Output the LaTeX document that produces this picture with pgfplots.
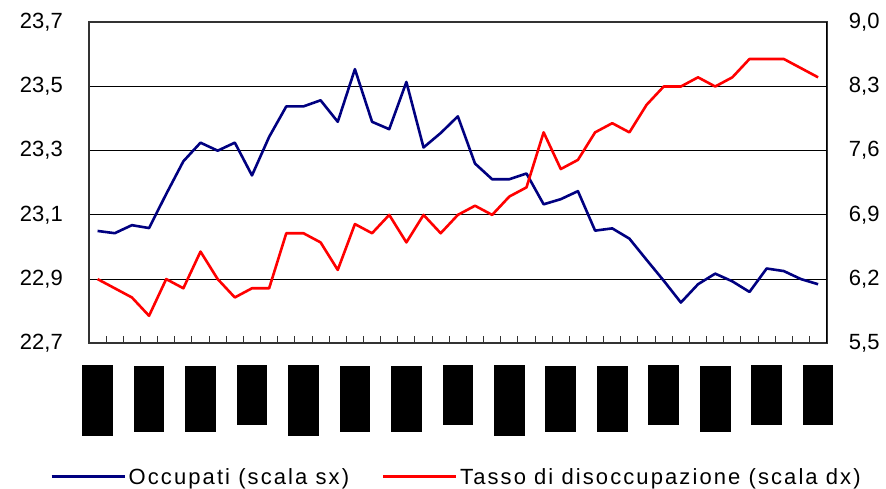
\documentclass[border=0pt]{standalone}
\usepackage{fontspec}
\setmainfont{Liberation Sans}
\newfontfamily\legfont[LetterSpace=9.5]{Liberation Sans}
\usepackage{pgfplots}
\pgfplotsset{compat=1.18}

\definecolor{navy}{RGB}{0,0,128}
\definecolor{rosso}{RGB}{255,0,0}

% black blocks standing in for the (unreadable) rotated date labels
\newcommand\bx[1]{\rule{30.7pt}{#1pt}}

\pgfplotstableread{
i occ tasso
0 23.050 6.20
1 23.043 6.10
2 23.068 6.00
3 23.059 5.80
4 23.165 6.20
5 23.267 6.10
6 23.325 6.50
7 23.300 6.20
8 23.325 6.00
9 23.223 6.10
10 23.343 6.10
11 23.438 6.70
12 23.438 6.70
13 23.457 6.60
14 23.390 6.30
15 23.554 6.80
16 23.390 6.70
17 23.367 6.90
18 23.514 6.60
19 23.310 6.90
20 23.355 6.70
21 23.407 6.90
22 23.260 7.00
23 23.211 6.90
24 23.211 7.10
25 23.229 7.20
26 23.133 7.80
27 23.149 7.40
28 23.174 7.50
29 23.051 7.80
30 23.058 7.90
31 23.026 7.80
32 22.960 8.10
33 22.895 8.30
34 22.827 8.30
35 22.884 8.40
36 22.917 8.30
37 22.893 8.40
38 22.860 8.60
39 22.933 8.60
40 22.925 8.60
41 22.900 8.50
42 22.884 8.40
}\dati

\pgfplotsset{
  tickfont/.style={font=\fontsize{22}{26}\selectfont,
    /pgf/number format/use comma, /pgf/number format/fixed,
    /pgf/number format/fixed zerofill, /pgf/number format/precision=1,
    /pgf/number format/assume math mode=true},
}

\begin{document}
\begin{tikzpicture}
\begin{axis}[
  name=sx,
  scale only axis, width=737.7pt, height=321pt,
  xmin=-0.5, xmax=42.5,
  ymin=22.7, ymax=23.7,
  ytick={22.7,22.9,23.1,23.3,23.5,23.7},
  ymajorgrids, grid style={black, line width=1.1pt},
  axis line style={black!80, line width=1.6pt},
  xtick={-0.5,0.5,...,42.5}, xticklabels={},
  xtick pos=bottom, xtick align=inside, major tick length=7pt,
  xtick style={black!80, line width=1pt},
  ytick style={draw=none},
  yticklabel style={tickfont, anchor=east, inner sep=0pt, xshift=-26pt},
  extra x ticks={0,3,...,42},
  extra x tick labels={\bx{71},\bx{66},\bx{66},\bx{60},\bx{71},\bx{66},\bx{66},\bx{60},
                       \bx{71},\bx{66},\bx{66},\bx{60},\bx{66},\bx{60},\bx{60}},
  extra x tick style={major tick length=0pt,
    xticklabel style={anchor=north, inner sep=0pt, yshift=-22pt}},
]
\addplot[navy, line width=2.6pt, line join=round] table[x=i, y=occ]{\dati};
\end{axis}

\begin{axis}[
  scale only axis, width=737.7pt, height=321pt,
  xmin=-0.5, xmax=42.5, axis x line=none,
  ymin=5.5, ymax=9.0, axis y line*=right,
  ytick={5.5,6.2,6.9,7.6,8.3,9.0},
  ytick style={draw=none},
  axis line style={black, line width=1.3pt},
  yticklabel style={tickfont, anchor=west, inner sep=0pt, xshift=22pt},
  legend image code/.code={\draw[#1, line width=3pt] (0pt,0pt) -- (73pt,0pt);},
  legend style={at={(-0.0529,-0.4165)}, anchor=west, draw=none, fill=none,
    inner sep=0pt, legend columns=2,
    font=\legfont\fontsize{22}{26}\selectfont,
    nodes={inner sep=2.5pt},
    /tikz/every even column/.append style={column sep=30pt}},
]
\addlegendimage{navy}
\addlegendentry{Occupati (scala sx)}
\addplot[rosso, line width=2.6pt, line join=round] table[x=i, y=tasso]{\dati};
\addlegendentry{Tasso di disoccupazione (scala dx)}
\end{axis}

\pgfresetboundingbox
\path (sx.south west) ++(-89pt,-145.7pt) rectangle ++(886pt,489pt);
\end{tikzpicture}
\end{document}
